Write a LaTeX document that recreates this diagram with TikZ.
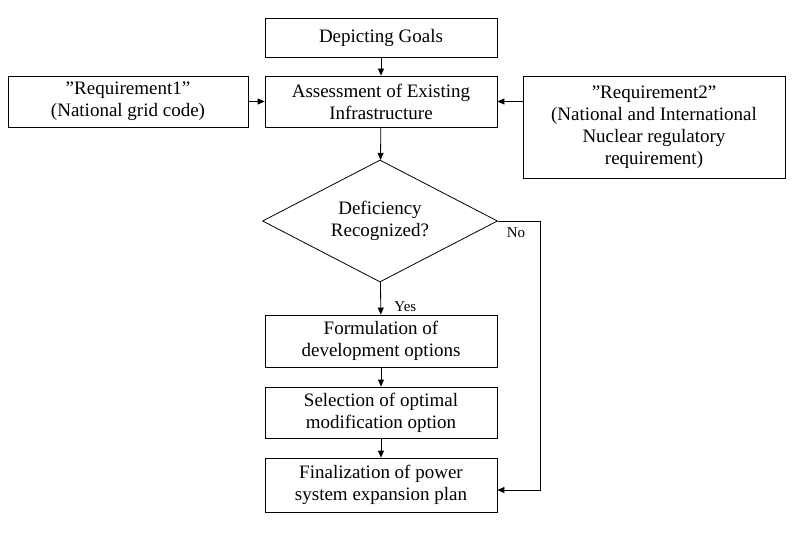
\documentclass[tikz,border=0pt]{standalone}
\usepackage{fontspec}
\setmainfont{Liberation Serif}
\usetikzlibrary{shapes.geometric,arrows.meta}
\begin{document}
\begin{tikzpicture}[x=1pt,y=-1pt,
  box/.style={draw,thick,align=center,inner sep=0pt,font=\fontsize{19}{22}\selectfont},
  arr/.style={thick,-{Triangle[length=7pt,width=6pt]}},
  lbl/.style={font=\fontsize{15}{17}\selectfont}]
\useasboundingbox[fill=white] (0,0) rectangle (800,535);
\node[box,minimum width=232,minimum height=39] (goal) at (381,37.5) {Depicting Goals};
\node[box,minimum width=232,minimum height=51] (assess) at (381,101.5) {Assessment of Existing\\Infrastructure};
\node[box,minimum width=240,minimum height=51] (req1) at (128,101.5) {"Requirement1"\\(National grid code)};
\node[box,minimum width=262,minimum height=102] (req2) at (654,127) {"Requirement2"\\(National and International\\Nuclear regulatory\\requirement)};
\node[box,diamond,aspect=1.93,minimum width=235,minimum height=122] (dec) at (380,221) {Deficiency\\Recognized?};
\node[box,minimum width=232,minimum height=52] (form) at (381,341) {Formulation of\\development options};
\node[box,minimum width=232,minimum height=51] (sel) at (381,412.5) {Selection of optimal\\modification option};
\node[box,minimum width=232,minimum height=54] (fin) at (381,485) {Finalization of power\\system expansion plan};
\draw[arr] (goal) -- (assess);
\draw[arr] (req1) -- (assess);
\draw[arr] (req2.west|-assess) -- (assess);
\draw[arr] (assess) -- (dec);
\draw[arr] (dec) -- node[lbl,right,pos=0.75,xshift=10pt]{Yes} (form);
\draw[arr] (form) -- (sel);
\draw[arr] (sel) -- (fin);
\coordinate (c1) at (540,221);
\coordinate (c2) at (540,490);
\draw[arr] (dec.east) -- (c1) -- (c2) -- (fin.east|-c2);
\node[lbl] (no) at (516,233) {No};
\end{tikzpicture}
\end{document}
